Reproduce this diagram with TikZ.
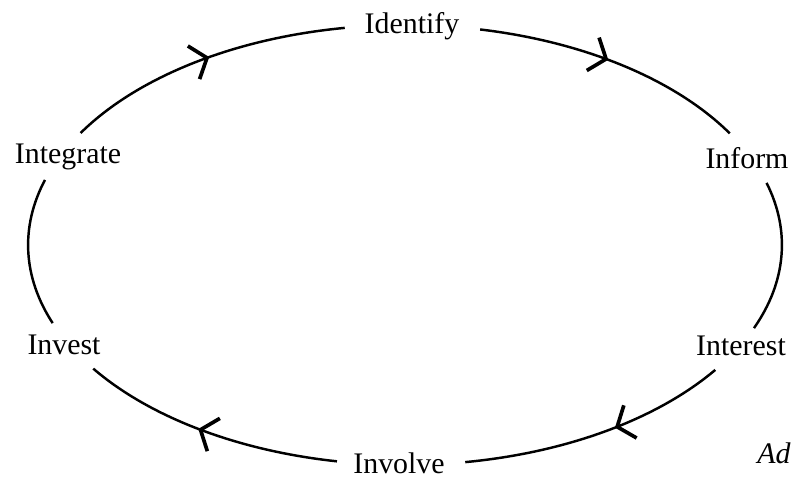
\documentclass[tikz,border=0pt]{standalone}
\usepackage{fontspec}
\setmainfont{Liberation Serif}
\usetikzlibrary{positioning, arrows.meta, calc, decorations.markings}

\begin{document}
\begin{tikzpicture}[
    x=0.02cm, y=0.02cm,
    font=\fontsize{17}{20}\selectfont,
    stage/.style={
        inner sep=0pt,
        anchor=base
    },
    ring/.style={
        draw=black,
        line width=1.4pt
    },
    flow/.style={
        postaction={decorate},
        decoration={markings,
            mark=at position #1 with {\arrow[line width=2.1pt]{Straight Barb[length=8pt, width=20pt]}}}
    }
]
\useasboundingbox (0,0) rectangle (794,478);

\def\rx{7.54cm}
\def\ry{4.4cm}

% ================= STAGES =================
\node[stage] (identify)  at (412,445) {Identify};
\node[stage] (inform)    at (747,310) {Inform};
\node[stage] (interest)  at (741,123) {Interest};
\node[stage] (involve)   at (399,5)   {Involve};
\node[stage] (invest)    at (64,124)  {Invest};
\node[stage] (integrate) at (68,315)  {Integrate};

\node[stage, anchor=base west] (source) at (757,15) {\textit{Ad}};

% ================= CYCLE =================
\coordinate (c) at (405,233);
\coordinate (integrate-out) at ($(c)+(149.4:7.54cm and 4.4cm)$);
\coordinate (identify-out)  at ($(c)+(78.5:7.54cm and 4.4cm)$);
\coordinate (inform-out)    at ($(c)+(16.4:7.54cm and 4.4cm)$);
\coordinate (interest-out)  at ($(c)+(-34.6:7.54cm and 4.4cm)$);
\coordinate (involve-out)   at ($(c)+(-100.4:7.54cm and 4.4cm)$);
\coordinate (invest-out)    at ($(c)+(-159.2:7.54cm and 4.4cm)$);

\draw[ring, flow=0.52] (integrate-out) arc[start angle=149.4, end angle=99.2, x radius=\rx, y radius=\ry];
\draw[ring, flow=0.48] (identify-out) arc[start angle=78.5, end angle=30.5, x radius=\rx, y radius=\ry];
\draw[ring]            (inform-out) arc[start angle=16.4, end angle=-22.2, x radius=\rx, y radius=\ry];
\draw[ring, flow=0.43] (interest-out) arc[start angle=-34.6, end angle=-80.8, x radius=\rx, y radius=\ry];
\draw[ring, flow=0.54] (involve-out) arc[start angle=-100.4, end angle=-145.8, x radius=\rx, y radius=\ry];
\draw[ring]            (invest-out) arc[start angle=-159.2, end angle=-197.2, x radius=\rx, y radius=\ry];

\end{tikzpicture}
\end{document}
